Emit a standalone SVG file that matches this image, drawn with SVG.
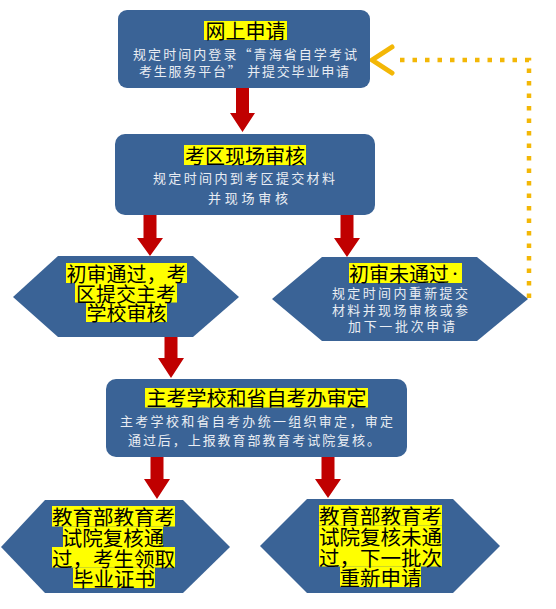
<svg xmlns="http://www.w3.org/2000/svg" width="556" height="609" viewBox="0 0 556 609">
<style>
.box{fill:#3a6396;}
.hl{fill:#ffff00;}
.t{font-family:"Noto Sans CJK SC","Liberation Sans",sans-serif;fill:#000;font-size:20px;text-anchor:middle;dominant-baseline:central;}
.s{font-family:"Noto Sans CJK SC","Liberation Sans",sans-serif;fill:#e9edf3;font-size:13px;text-anchor:middle;dominant-baseline:central;}
.arr{fill:#c00000;}
.dot{fill:none;stroke:#f3b706;stroke-width:4.5;stroke-dasharray:4.5 8;}
.chev{fill:none;stroke:#f3b706;stroke-width:5;stroke-linecap:round;stroke-linejoin:round;}
</style>
<rect width="556" height="609" fill="#ffffff"/>
<g id="connectors">
<path class="arr" d="M236,88 H249 V113 H255 L242.5,132 L230,113 H236 Z"/>
<path class="arr" d="M143.5,215 H156.5 V238 H163 L150,256 L137,238 H143.5 Z"/>
<path class="arr" d="M340.5,215 H353.5 V238 H360 L347,257 L334,238 H340.5 Z"/>
<path class="arr" d="M164.5,337 H177.5 V358 H184 L171,378 L158,358 H164.5 Z"/>
<path class="arr" d="M150.5,457 H163.5 V479 H170 L157,499 L144,479 H150.5 Z"/>
<path class="arr" d="M321.5,457 H334.5 V479 H341 L328,498 L315,479 H321.5 Z"/>
<path class="dot" d="M529,298 V60 H394"/>
<polyline class="chev" points="392,47 372,60 392,73"/>
</g>
<g id="node-online">
<rect class="box" x="118" y="10" width="252" height="78" rx="9"/>
<rect class="hl" x="204" y="21" width="83" height="19"/>
<text class="t" x="245.5" y="30.5">网上申请</text>
<text class="s"><tspan x="245" y="53" textLength="224" lengthAdjust="spacing">规定时间内登录“青海省自学考试</tspan><tspan x="244" y="70" textLength="210" lengthAdjust="spacing">考生服务平台” 并提交毕业申请</tspan></text>
</g>
<g id="node-onsite">
<rect class="box" x="115" y="134" width="260" height="81" rx="10"/>
<rect class="hl" x="184" y="145" width="122" height="20"/>
<text class="t" x="245" y="155">考区现场审核</text>
<text class="s"><tspan x="244" y="177" textLength="182" lengthAdjust="spacing">规定时间内到考区提交材料</tspan><tspan x="248" y="197" textLength="80" lengthAdjust="spacing">并现场审核</tspan></text>
</g>
<g id="node-pass1">
<polygon class="box" points="13,297 58,256 193,256 239,297 193,337 58,337"/>
<rect class="hl" x="66" y="263" width="121" height="20"/>
<rect class="hl" x="75" y="282.5" width="102" height="20"/>
<rect class="hl" x="86" y="302" width="81" height="20"/>
<text class="t"><tspan x="126.5" y="273">初审通过，考</tspan><tspan x="126" y="292.5">区提交主考</tspan><tspan x="126.5" y="312">学校审核</tspan></text>
</g>
<g id="node-fail1">
<polygon class="box" points="272,299 322,257 477,257 528,299 477,341 322,341"/>
<rect class="hl" x="349" y="263" width="113" height="20"/>
<text class="t" x="349" y="273" style="text-anchor:start">初审未通过<tspan style="font-size:12px">·</tspan></text>
<text class="s"><tspan x="400" y="292" textLength="136" lengthAdjust="spacing">规定时间内重新提交</tspan><tspan x="400" y="309" textLength="136" lengthAdjust="spacing">材料并现场审核或参</tspan><tspan x="401.5" y="325" textLength="107" lengthAdjust="spacing">加下一批次申请</tspan></text>
</g>
<g id="node-review">
<rect class="box" x="106" y="379" width="301" height="78" rx="10"/>
<rect class="hl" x="145" y="388" width="223" height="19.5"/>
<text class="t" x="256.5" y="397.5">主考学校和省自考办审定</text>
<text class="s"><tspan x="256.5" y="420" textLength="273" lengthAdjust="spacing">主考学校和省自考办统一组织审定，审定</tspan><tspan x="254" y="439" textLength="252" lengthAdjust="spacing">通过后，上报教育部教育考试院复核。</tspan></text>
</g>
<g id="node-pass2">
<polygon class="box" points="1,547 45,500 183,500 230,547 183,593 45,593"/>
<rect class="hl" x="52" y="506" width="123" height="20.5"/>
<rect class="hl" x="63" y="526.5" width="100" height="20.5"/>
<rect class="hl" x="52" y="547" width="123" height="20.5"/>
<rect class="hl" x="73" y="567.5" width="82" height="20.5"/>
<text class="t" style="font-size:20.5px"><tspan x="113.5" y="516">教育部教育考</tspan><tspan x="113" y="537">试院复核通</tspan><tspan x="113.5" y="557.5">过，考生领取</tspan><tspan x="114" y="578">毕业证书</tspan></text>
</g>
<g id="node-fail2">
<polygon class="box" points="260,546 307,499 453,499 500,546 453,593 307,593"/>
<rect class="hl" x="319" y="505" width="123" height="20.5"/>
<rect class="hl" x="319" y="525.5" width="123" height="20.5"/>
<rect class="hl" x="319" y="546" width="123" height="20.5"/>
<rect class="hl" x="340" y="566.5" width="81" height="20.5"/>
<text class="t" style="font-size:20.5px"><tspan x="380.5" y="515">教育部教育考</tspan><tspan x="380.5" y="536">试院复核未通</tspan><tspan x="380.5" y="556.5">过，下一批次</tspan><tspan x="380.5" y="577">重新申请</tspan></text>
</g>
</svg>
